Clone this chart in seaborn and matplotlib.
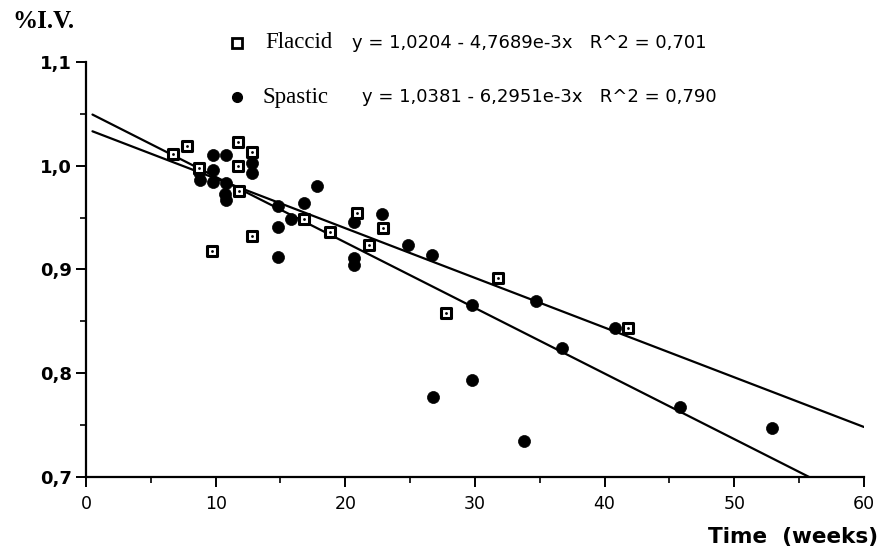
import numpy as np
import pandas as pd
import matplotlib
matplotlib.use('Agg')
import matplotlib.pyplot as plt
import seaborn as sns
from matplotlib.ticker import MultipleLocator, FuncFormatter

# data
flaccid_weeks = [6.7, 7.8, 8.7, 9.7, 11.7, 11.7, 11.8, 12.8, 12.8, 16.8, 18.8, 20.9, 21.8, 22.9, 27.8, 31.8, 41.8]
flaccid_iv = [1.011, 1.019, 0.998, 0.918, 1.023, 1.000, 0.976, 1.013, 0.932, 0.949, 0.936, 0.954, 0.924, 0.940, 0.858, 0.892, 0.844]

spastic_weeks = [8.7, 8.8, 9.8, 10.8, 9.8, 9.8, 10.8, 10.7, 10.8, 12.8, 12.8, 14.8, 14.8, 14.8, 15.8, 16.8,
                 17.8, 20.7, 20.7, 20.7, 22.8, 24.8, 26.7, 29.8, 34.7, 40.8, 36.7, 29.8, 26.8, 33.8, 45.8, 52.9]
spastic_iv = [0.994, 0.986, 1.010, 1.010, 0.996, 0.984, 0.983, 0.973, 0.967, 1.003, 0.993, 0.961, 0.941, 0.912, 0.949, 0.964,
              0.980, 0.946, 0.911, 0.904, 0.953, 0.924, 0.914, 0.866, 0.870, 0.844, 0.824, 0.793, 0.777, 0.735, 0.767, 0.747]

# regression lines as drawn in the figure
groups = ['Flaccid', 'Spastic']
intercepts = [1.0356, 1.0525]
slopes = [-0.00479, -0.00632]
line_start, line_end = 0.5, 60

labels = ['y = 1,0204 - 4,7689e-3x   R^2 = 0,701',
          'y = 1,0381 - 6,2951e-3x   R^2 = 0,790']

sns.set_style('ticks')
plt.rcParams['font.family'] = ['DejaVu Sans']
plt.rcParams['text.color'] = 'black'
plt.rcParams['axes.edgecolor'] = 'black'
plt.rcParams['xtick.color'] = 'black'
plt.rcParams['ytick.color'] = 'black'

fig = plt.figure(figsize=(8.81, 5.52), dpi=100)
ax = fig.add_axes([0.0976, 0.1359, 0.883, 0.7518])

lines = []
for g, b, m in zip(groups, intercepts, slopes):
    xs = np.array([line_start, line_end])
    lines.append(pd.DataFrame({'x': xs, 'y': b + m * xs, 'g': g}))
lines = pd.concat(lines)
for g in groups:
    d = lines[lines['g'] == g]
    sns.lineplot(x='x', y='y', data=d, ax=ax, color='black', lw=1.6, estimator=None, legend=False)

sp = pd.DataFrame({'x': spastic_weeks, 'y': spastic_iv})
fl = pd.DataFrame({'x': flaccid_weeks, 'y': flaccid_iv})
sns.scatterplot(x='x', y='y', data=sp, ax=ax, marker='o', s=75, color='black', edgecolor='black', linewidth=0.5, zorder=3)
sns.scatterplot(x='x', y='y', data=fl, ax=ax, marker='s', s=50, color='white', edgecolor='black', linewidth=2.2, zorder=4)
# tiny speck inside open squares, like the scan
sns.scatterplot(x='x', y='y', data=fl, ax=ax, marker='o', s=4, color='black', linewidth=0, zorder=5)

ax.set_xlim(0, 60)
ax.set_ylim(0.7, 1.1)
ax.xaxis.set_major_locator(MultipleLocator(10))
ax.xaxis.set_minor_locator(MultipleLocator(5))
ax.yaxis.set_major_locator(MultipleLocator(0.1))
ax.yaxis.set_minor_locator(MultipleLocator(0.05))
ax.yaxis.set_major_formatter(FuncFormatter(lambda v, p: f'{v:.1f}'.replace('.', ',')))
ax.tick_params(axis='both', which='major', length=7, width=1.4, direction='out')
ax.tick_params(axis='both', which='minor', length=4, width=1.2, direction='out')
ax.tick_params(axis='x', labelsize=12.5, pad=6)
ax.tick_params(axis='y', labelsize=13, pad=3)
for t in ax.get_yticklabels():
    t.set_fontweight('bold')
for s in ['top', 'right']:
    ax.spines[s].set_visible(False)
for s in ['left', 'bottom']:
    ax.spines[s].set_linewidth(1.6)
ax.set_xlabel('')
ax.set_ylabel('')

fig.text(12 / 881, 1 - 22 / 552, '%I.V.', family='Liberation Serif', fontsize=18, fontweight='bold', va='center')
fig.text(878 / 881, 1 - 537 / 552, 'Time  (weeks)', fontsize=15.5, fontweight='bold', ha='right', va='center')

# legend drawn as free text above the plot
ys = [1 - 43 / 552, 1 - 97 / 552]
name_x = [265 / 881, 262 / 881]
eq_x = [352 / 881, 362 / 881]
mk = [dict(marker='s', ms=6.5, mfc='white', mec='black', mew=2), dict(marker='o', ms=7, mfc='black', mec='black')]
for y, g, nx, ex, lab, k in zip(ys, groups, name_x, eq_x, labels, mk):
    ax.plot([237 / 881], [y], transform=fig.transFigure, clip_on=False, ls='none', **k)
    fig.text(nx, y, g, family='Liberation Serif', fontsize=16.5, va='center')
    fig.text(ex, y, lab, fontsize=13, va='center')

fig.savefig('out.png', dpi=100)
